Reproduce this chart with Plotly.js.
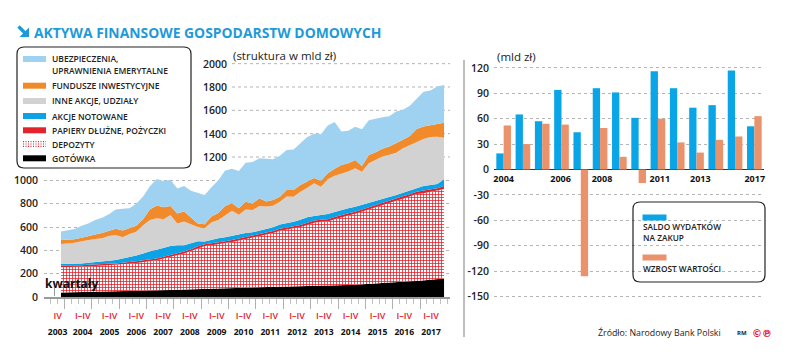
<!DOCTYPE html>
<html><head><meta charset="utf-8">
<script src="https://cdn.plot.ly/plotly-3.0.1.min.js"></script>
<style>html,body{margin:0;padding:0;background:#fff}#chart{width:788px;height:352px}</style>
</head><body><div id="chart"></div>
<script>
// ---------- LEFT CHART DATA (quarterly, 2003 Q4 .. 2017 Q4, bln PLN) ----------
const quarters = [];
for (let y = 2003; y <= 2017; y++) for (let q = 1; q <= 4; q++) if (y > 2003 || q === 4) quarters.push(y + ' Q' + q);

const gotowka = [38,39,40,41,43,44,45,46,48,49,51,52,54,55,57,58,60,62,64,65,72,73,74,75,77,78,79,80,82,83,84,86,88,89,90,90,91,92,94,96,98,100,102,104,107,110,113,116,119,124,130,134,138,142,148,153,158];
const depozyty = [218,217,217,218,219,222,224,224,225,228,234,239,245,250,258,272,283,297,309,329,347,365,370,375,385,394,405,418,431,440,454,462,480,489,498,511,527,545,550,552,569,585,596,609,625,645,658,674,690,702,712,726,744,748,752,756,767];
const papiery = [14,13,13,14,14,15,14,15,15,16,15,15,16,15,16,15,15,16,17,16,16,15,16,17,16,16,17,17,16,17,18,17,17,18,17,17,18,18,19,18,18,18,19,18,18,19,20,19,19,20,21,20,21,22,22,24,26];
const akcjeNotowane = [12,13,13,14,17,20,22,26,30,36,40,49,58,72,73,75,79,69,53,50,43,22,30,37,34,37,37,33,25,30,30,33,37,37,40,44,48,39,41,45,43,43,44,43,40,35,32,28,28,28,30,31,32,39,38,36,58];
const inneAkcje = [172,175,182,191,196,197,198,212,213,183,200,205,243,268,271,246,266,187,204,166,122,114,150,157,191,215,166,203,191,210,189,185,195,228,215,241,252,280,242,299,312,314,314,329,284,337,353,368,364,363,382,389,395,404,412,405,357];
const fundusze = [35,34,30,30,36,38,45,45,54,59,50,50,50,90,109,104,77,84,85,54,30,35,50,60,77,63,57,66,57,66,43,48,43,57,57,57,55,46,50,50,60,71,72,71,49,71,65,65,70,80,72,80,110,107,103,109,128];
const ubezpieczenia = [73,83,87,102,105,125,132,142,165,185,170,190,195,200,227,225,225,215,219,230,260,250,250,280,305,297,320,333,355,344,368,349,350,343,348,360,380,380,400,410,400,287,279,286,314,298,288,270,260,273,259,260,260,298,295,322,323];

const leftTicks = [0,200,400,600,800,1000];
const upperTicks = [1200,1400,1600,1800,2000];
const labelYears = [2003,2004,2005,2006,2007,2008,2009,2010,2011,2012,2013,2014,2015,2016,2017];

// ---------- RIGHT CHART DATA (yearly, bln PLN) ----------
const years = [2004,2005,2006,2007,2008,2009,2010,2011,2012,2013,2014,2015,2016,2017];
const saldoWydatkow = [19,65,57,94,44,96,91,61,116,96,73,76,117,51];
const wzrostWartosci = [52,30,54,53,-126,49,15,-16,60,32,20,35,39,63];
const rightTicks = [-150,-120,-90,-60,-30,0,30,60,90,120];
const rightTickLabelPos = [2004,2006.95,2009.1,2012.1,2014.2,2017.02];
const rightTickLabels = ['2004','2006','2008','2011','2013','2017'];

// ---------- helpers ----------
const W = 788, H = 352;
const X = px => px / W;
const Y = py => 1 - py / H;
const FONT = "'Open Sans', 'DejaVu Sans', sans-serif";
const xIdx = quarters.map((q, i) => i);

const C = {
  ubezp: '#9fd2f0', fund: '#f18a2b', inne: '#d2d2d2', akcje: '#0ba3e6',
  papiery: '#e3222c', depo: '#e3222c', got: '#000000',
  blue: '#0aa5e6', salmon: '#ea926c', title: '#1f9ad8'
};

function roundRect(x0, y0, x1, y1, r) {
  const rx = r / W, ry = r / H;
  const a = X(x0), b = X(x1), t = Y(y0), u = Y(y1);
  return `M ${a+rx},${t} L ${b-rx},${t} Q ${b},${t} ${b},${t-ry} L ${b},${u+ry} Q ${b},${u} ${b-rx},${u} L ${a+rx},${u} Q ${a},${u} ${a},${u+ry} L ${a},${t-ry} Q ${a},${t} ${a+rx},${t} Z`;
}

// ---------- traces ----------
function area(name, vals, color, extra) {
  return Object.assign({
    type: 'scatter', mode: 'lines', x: xIdx, y: vals, name: name,
    stackgroup: 'one', line: { width: 0, color: color }, fillcolor: color,
    hoverinfo: 'skip', showlegend: false, xaxis: 'x', yaxis: 'y'
  }, extra || {});
}
const traces = [
  area('GOTÓWKA', gotowka, C.got),
  area('DEPOZYTY', depozyty, '#ffffff', { fillpattern: { shape: '+', fgcolor: C.depo, bgcolor: '#ffffff', size: 3, solidity: 0.45 } }),
  area('PAPIERY DŁUŻNE, POŻYCZKI', papiery, C.papiery),
  area('AKCJE NOTOWANE', akcjeNotowane, C.akcje),
  area('INNE AKCJE, UDZIAŁY', inneAkcje, C.inne),
  area('FUNDUSZE INWESTYCYJNE', fundusze, C.fund),
  area('UBEZPIECZENIA, UPRAWNIENIA EMERYTALNE', ubezpieczenia, C.ubezp),
  { type: 'bar', x: years, y: saldoWydatkow, name: 'SALDO WYDATKÓW NA ZAKUP', marker: { color: C.blue }, xaxis: 'x2', yaxis: 'y2', hoverinfo: 'skip', showlegend: false },
  { type: 'bar', x: years, y: wzrostWartosci, name: 'WZROST WARTOŚCI', marker: { color: C.salmon }, xaxis: 'x2', yaxis: 'y2', hoverinfo: 'skip', showlegend: false },
  { type: 'scatter', mode: 'markers', x: [0], y: [0], marker: { opacity: 0 }, xaxis: 'x3', yaxis: 'y', hoverinfo: 'skip', showlegend: false },
  { type: 'scatter', mode: 'markers', x: [0], y: [0], marker: { opacity: 0 }, xaxis: 'x4', yaxis: 'y', hoverinfo: 'skip', showlegend: false }
];

// ---------- left axis geometry ----------
const q0px = 61, qStep = 6.84;
const xLeftDom = [X(44), X(450)];
const xLeftRange = [(44 - q0px) / qStep, (450 - q0px) / qStep];
const yLeftRange = [0, (297 - 55) / 0.11667];
const yLeftDom = [Y(297), Y(55)];

const yearBoundaries = labelYears.slice(1).map(y => 4 * (y - 2004) + 0.5);
// label positions as placed in the original graphic (slightly tighter than the quarter grid)
const labelPos = labelYears.map(y => y === 2003 ? -0.5 : 3.17 + 3.918 * (y - 2004));
const quarterText = labelYears.map(y => y === 2003 ? 'IV' : 'I–IV');

// ---------- right axis geometry ----------
const xRightDom = [X(494), X(764)];
const yRightDom = [Y(337), Y(60)];
const yRightRange = [-197.8, 129.3];

// ---------- shapes ----------
const shapes = [];
upperTicks.forEach(v => shapes.push({ type: 'line', xref: 'paper', yref: 'y', x0: X(232), x1: X(450), y0: v, y1: v, line: { color: '#b5b5b5', width: 1, dash: 'dot' }, layer: 'below' }));
// title arrow icon (↘)
shapes.push({ type: 'line', xref: 'paper', yref: 'paper', x0: X(18.5), y0: Y(26.5), x1: X(25.5), y1: Y(33.5), line: { color: C.title, width: 3.4 } });
shapes.push({ type: 'path', xref: 'paper', yref: 'paper', path: `M ${X(29)},${Y(37)} L ${X(29)},${Y(27.5)} L ${X(19.5)},${Y(37)} Z`, fillcolor: C.title, line: { width: 0 } });
shapes.push({ type: 'path', xref: 'paper', yref: 'paper', path: roundRect(17, 47, 191, 168, 7), line: { color: '#222', width: 1.2 }, fillcolor: 'rgba(255,255,255,0)' });
const legRows = [
  { c: C.ubezp, y: 59 }, { c: C.fund, y: 85.7 }, { c: C.inne, y: 101 },
  { c: C.akcje, y: 116 }, { c: C.papiery, y: 130.3 }, { c: null, y: 144 }, { c: C.got, y: 158.3 }
];
legRows.forEach(r => {
  if (r.c) shapes.push({ type: 'rect', xref: 'paper', yref: 'paper', x0: X(23), x1: X(46), y0: Y(r.y + 3), y1: Y(r.y - 3), fillcolor: r.c, line: { width: 0 } });
  else [-2.4, 0, 2.4].forEach(d => shapes.push({ type: 'line', xref: 'paper', yref: 'paper', x0: X(23), x1: X(46), y0: Y(r.y + d), y1: Y(r.y + d), line: { color: C.depo, width: 1.2, dash: '1px,1.5px' } }));
});
shapes.push({ type: 'line', xref: 'paper', yref: 'paper', x0: X(54.5), x1: X(54.5), y0: Y(288), y1: Y(296), line: { color: '#999', width: 1 } });
shapes.push({ type: 'line', xref: 'paper', yref: 'paper', x0: X(464), x1: X(464), y0: Y(60), y1: Y(337), line: { color: '#a8a8a8', width: 1.5 } });
shapes.push({ type: 'path', xref: 'paper', yref: 'paper', path: roundRect(633, 202, 765, 282, 7), line: { color: '#222', width: 1.2 }, fillcolor: 'rgba(255,255,255,0)' });
shapes.push({ type: 'rect', xref: 'paper', yref: 'paper', x0: X(642.5), x1: X(666.5), y0: Y(220.5), y1: Y(214.5), fillcolor: C.blue, line: { width: 0 } });
shapes.push({ type: 'rect', xref: 'paper', yref: 'paper', x0: X(642.5), x1: X(666.5), y0: Y(260.5), y1: Y(254.5), fillcolor: C.salmon, line: { width: 0 } });

// ---------- annotations ----------
const ann = [];
function txt(text, px, py, o) {
  ann.push(Object.assign({ text: text, x: X(px), y: Y(py), xref: 'paper', yref: 'paper', showarrow: false, xanchor: 'left', yanchor: 'middle', font: { family: FONT, size: 9, color: '#222' } }, o || {}));
}
txt('AKTYWA FINANSOWE GOSPODARSTW DOMOWYCH', 32, 32, { font: { family: FONT, size: 13.9, color: C.title, weight: 700 } });
txt('(struktura w mld zł)', 231, 55, { font: { family: FONT, size: 11.5, color: '#222' } });
txt('(mld zł)', 495, 56.5, { font: { family: FONT, size: 11.5, color: '#222' } });
const legFont = { family: FONT, size: 8.5, color: '#222', weight: 600 };
txt('UBEZPIECZENIA,', 50, 58.3, { font: legFont });
txt('UPRAWNIENIA EMERYTALNE', 50, 70.7, { font: legFont });
txt('FUNDUSZE INWESTYCYJNE', 50, 85.7, { font: legFont });
txt('INNE AKCJE, UDZIAŁY', 50, 101, { font: legFont });
txt('AKCJE NOTOWANE', 50, 116, { font: legFont });
txt('PAPIERY DŁUŻNE, POŻYCZKI', 50, 130.3, { font: legFont });
txt('DEPOZYTY', 50, 144, { font: legFont });
txt('GOTÓWKA', 50, 158.3, { font: legFont });
upperTicks.forEach(v => ann.push({ text: String(v), x: X(229), xref: 'paper', y: v, yref: 'y', xanchor: 'right', yanchor: 'middle', showarrow: false, font: { family: FONT, size: 10.5, color: '#222', weight: 600 } }));
txt('kwartały', 43, 283, { font: { family: FONT, size: 12, color: '#111', weight: 700 } });
const rlFont = { family: FONT, size: 8.3, color: '#222', weight: 600 };
txt('SALDO WYDATKÓW', 641, 226.5, { font: rlFont });
txt('NA ZAKUP', 641, 237.5, { font: rlFont });
txt('WZROST WARTOŚCI', 641, 268, { font: rlFont });
txt('Źródło: Narodowy Bank Polski', 596, 333, { font: { family: FONT, size: 8.8, color: '#222', weight: 500 } });
txt('RM', 735, 333, { font: { family: FONT, size: 6, color: '#222', weight: 700 } });
txt('©℗', 750, 333, { font: { family: 'DejaVu Sans', size: 10, color: '#e3222c', weight: 700 } });

// ---------- layout ----------
const tickFont = { family: FONT, size: 10.5, color: '#222', weight: 600 };
const layout = {
  width: W, height: H, margin: { l: 0, r: 0, t: 0, b: 0, pad: 0 },
  paper_bgcolor: '#fff', plot_bgcolor: 'rgba(0,0,0,0)', showlegend: false,
  barmode: 'group', bargap: 0.24, bargroupgap: 0,
  xaxis: {
    domain: xLeftDom, range: xLeftRange, anchor: 'y', fixedrange: true,
    showgrid: false, zeroline: false, showline: true, linecolor: '#9a9a9a', linewidth: 1.5,
    tickmode: 'array', tickvals: yearBoundaries, showticklabels: false,
    ticks: 'outside', ticklen: 10, tickcolor: '#b0b0b0', tickwidth: 1,
    minor: { ticks: 'outside', tickmode: 'linear', tick0: 0.5, dtick: 1, ticklen: 5, tickcolor: '#c0c0c0', tickwidth: 1, showgrid: false }
  },
  xaxis3: {
    overlaying: 'x', anchor: 'y', side: 'bottom', range: xLeftRange, fixedrange: true,
    showgrid: false, zeroline: false, showline: false, ticks: '', tickangle: 0,
    tickmode: 'array', tickvals: labelPos, ticktext: quarterText, ticklabelstandoff: 12,
    tickfont: { family: FONT, size: 9, color: '#e3222c', weight: 600 }
  },
  xaxis4: {
    overlaying: 'x', anchor: 'y', side: 'bottom', range: xLeftRange, fixedrange: true,
    showgrid: false, zeroline: false, showline: false, ticks: '', tickangle: 0,
    tickmode: 'array', tickvals: labelPos, ticktext: labelYears.map(String), ticklabelstandoff: 28,
    tickfont: { family: FONT, size: 8.6, color: '#111', weight: 700 }
  },
  yaxis: {
    domain: yLeftDom, range: yLeftRange, anchor: 'x', fixedrange: true,
    tickmode: 'array', tickvals: leftTicks, ticks: '', ticklabelstandoff: 5,
    showgrid: true, gridcolor: '#b5b5b5', griddash: 'dot', gridwidth: 1,
    zeroline: false, showline: false, tickfont: tickFont
  },
  xaxis2: {
    domain: xRightDom, range: [2003.5, 2017.5], anchor: 'free', position: Y(169.5), fixedrange: true,
    showgrid: false, zeroline: false, showline: false, ticks: '', tickangle: 0,
    tickmode: 'array', tickvals: rightTickLabelPos, ticktext: rightTickLabels, ticklabelstandoff: 2,
    tickfont: { family: FONT, size: 9, color: '#111', weight: 700 }
  },
  yaxis2: {
    domain: yRightDom, range: yRightRange, anchor: 'x2', fixedrange: true,
    tickmode: 'array', tickvals: rightTicks, ticktext: rightTicks.map(v => String(v)), ticks: '', ticklabelstandoff: 4,
    showgrid: true, gridcolor: '#b5b5b5', griddash: 'dot', gridwidth: 1,
    zeroline: true, zerolinecolor: '#333', zerolinewidth: 1.5, showline: false, tickfont: tickFont
  },
  shapes: shapes, annotations: ann
};

Plotly.newPlot('chart', traces, layout, { staticPlot: true, displayModeBar: false });
</script>
</body></html>
